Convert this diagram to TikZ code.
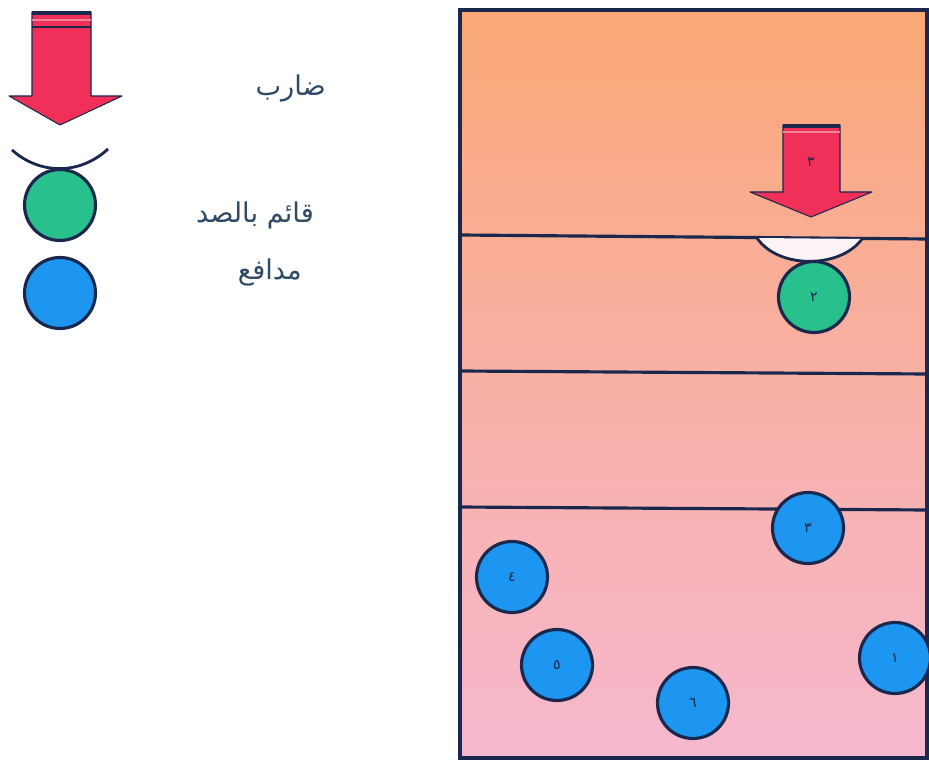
\documentclass[tikz,border=0pt]{standalone}
\usepackage{fontspec}
\newfontfamily\arabicfont[Script=Arabic]{DejaVu Sans}
\TeXXeTstate=1
\usetikzlibrary{positioning}

\definecolor{courtorange}{RGB}{250,168,118}
\definecolor{courtpink}{RGB}{246,184,206}
\definecolor{courtmid}{RGB}{248,176,166}
\definecolor{linenavy}{RGB}{26,40,78}
\definecolor{hitred}{RGB}{240,48,88}
\definecolor{blockgreen}{RGB}{40,192,140}
\definecolor{defblue}{RGB}{28,150,240}
\definecolor{legendtext}{RGB}{46,74,102}

\begin{document}
\begin{tikzpicture}[x=0.02cm, y=-0.02cm]
        % Styles
        \tikzstyle{player} = [circle, draw=linenavy, line width=1.8pt, minimum size=1.42cm, inner sep=0pt, font=\arabicfont\footnotesize, text=linenavy]
        \tikzstyle{blocker} = [player, fill=blockgreen]
        \tikzstyle{defender} = [player, fill=defblue]
        \tikzstyle{hitarrow} = [fill=hitred, draw=linenavy, line width=0.6pt, line join=round]
        \tikzstyle{legend} = [font=\arabicfont\fontsize{15.5}{18}\selectfont, text=legendtext, anchor=east]

        \useasboundingbox (0,0) rectangle (929,766);

        % Court
        \shade[top color=courtorange, bottom color=courtpink, middle color=courtmid] (460,10) rectangle (927,758);
        \draw[linenavy, line width=2pt] (460,10) rectangle (927,758);
        \draw[linenavy, line width=1.8pt] (460,235) -- (927,239);
        \draw[linenavy, line width=1.8pt] (460,371) -- (927,374);
        \draw[linenavy, line width=1.8pt] (460,507) -- (927,510);

        % Legend
        \path[hitarrow] (32,12) -- (91,12) -- (91,96) -- (122,96) -- (60,125) -- (9,96) -- (32,96) -- cycle;
        \draw[linenavy, line width=2pt] (32,13) -- (91,13);
        \draw[hitred!60!white, line width=1.2pt] (32,20) -- (91,20);
        \draw[linenavy, line width=0.8pt] (32,27) -- (91,27);
        \draw[linenavy, line width=1.6pt] (12,150) .. controls (40,175) and (80,175) .. (108,149);
        \node[blocker] (legblock) at (60,205) {};
        \node[defender] (legdef) at (60,293) {};
        \node[legend] (hitter) at (332,88) {\beginR ضارب\endR};
        \node[legend] (blockname) at (320,215) {\beginR قائم بالصد\endR};
        \node[legend] (defname) at (308,272) {\beginR مدافع\endR};

        % Attack and block
        \path[hitarrow] (783,125) -- (840,125) -- (840,192) -- (872,192) -- (811,217) -- (750,192) -- (783,192) -- cycle;
        \draw[linenavy, line width=2pt] (783,126) -- (840,126);
        \draw[hitred!60!white, line width=1.2pt] (783,132) -- (840,132);
        \node[font=\arabicfont\footnotesize, text=linenavy] (attnum) at (811,162) {٣};
        \draw[linenavy, line width=1.6pt, fill=white!85!courtpink] (757,238) .. controls (778,269) and (840,269) .. (862,239);
        \node[blocker] (p2) at (814,297) {٢};

        % Defenders
        \node[defender] (p3) at (808,528) {٣};
        \node[defender] (p4) at (512,577) {٤};
        \node[defender] (p5) at (557,665) {٥};
        \node[defender] (p6) at (693,703) {٦};
        \node[defender] (p1) at (895,658) {١};
    \end{tikzpicture}
\end{document}
